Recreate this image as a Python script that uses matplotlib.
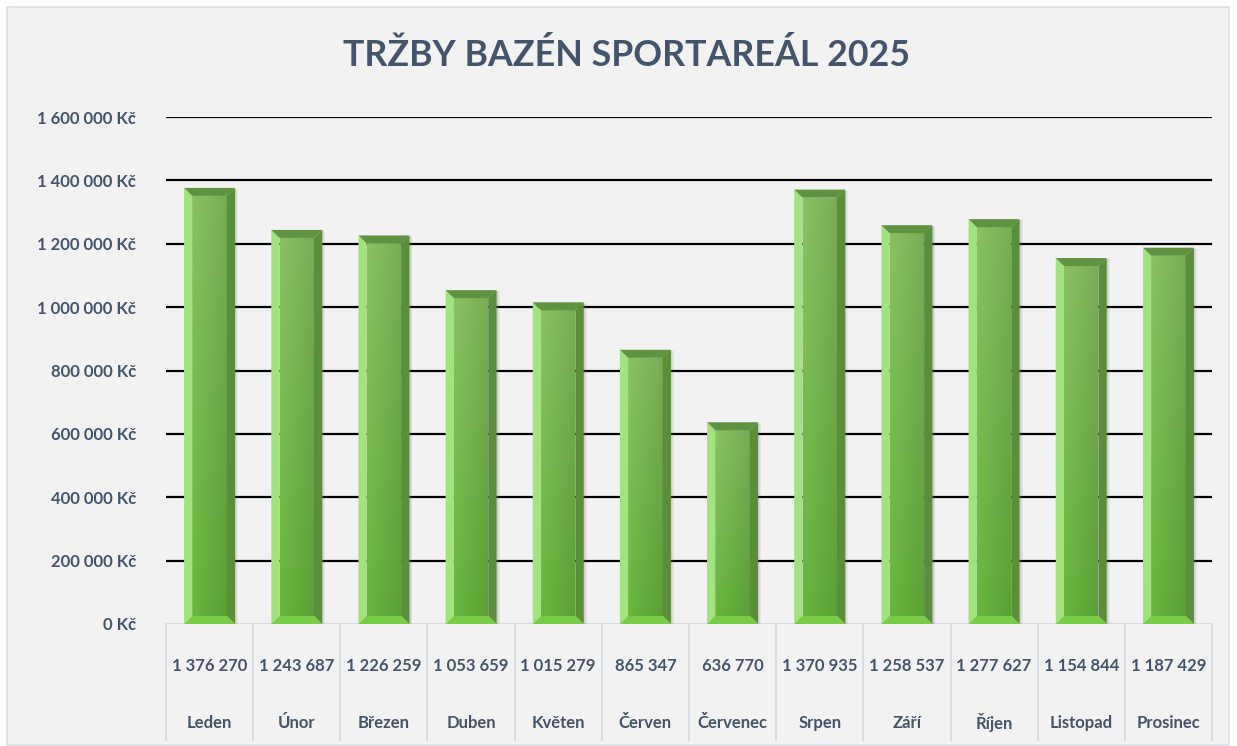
import matplotlib
matplotlib.use('Agg')
import matplotlib.pyplot as plt
import numpy as np
from matplotlib.patches import Polygon, Rectangle

months = ['Leden', 'Únor', 'Březen', 'Duben', 'Květen', 'Červen', 'Červenec',
          'Srpen', 'Září', 'Říjen', 'Listopad', 'Prosinec']
revenue = [1376270, 1243687, 1226259, 1053659, 1015279, 865347, 636770,
           1370935, 1258537, 1277627, 1154844, 1187429]
y_ticks = [0, 200000, 400000, 600000, 800000, 1000000, 1200000, 1400000, 1600000]
title = 'TRŽBY BAZÉN SPORTAREÁL 2025'

FONT = ['Lato', 'DejaVu Sans']
TXT = '#44546A'
W, H = 1237, 746


def fmt(v):
    return f'{v:,}'.replace(',', ' ')


fig = plt.figure(figsize=(W / 100, H / 100), dpi=100, facecolor='white')
fig.patches.append(Rectangle((7 / W, 1 / H), 1222 / W, 738 / H, transform=fig.transFigure,
                             facecolor='#F2F2F2', edgecolor='#D9DEE6', lw=1.2, zorder=-5))

ax = fig.add_axes([166 / W, (H - 624) / H, 1046 / W, 507 / H])
ax.set_zorder(2)
ax.set_facecolor('none')
ax.set_xlim(-0.5, len(months) - 0.5)
ax.set_ylim(0, 1600000)
for s in ax.spines.values():
    s.set_visible(False)
ax.set_xticks([])
ax.set_yticks(y_ticks)
ax.set_yticklabels([f'{fmt(v)} Kč' for v in y_ticks])
ax.tick_params(axis='y', length=0, pad=21.6)

renderer = fig.canvas.get_renderer()


def fit_size(text, target_px, base=11):
    t = fig.text(0, 0, text, fontsize=base, fontweight='bold', family=FONT)
    w = t.get_window_extent(renderer).width
    t.remove()
    return base * target_px / w


tick_fs = fit_size('1 600 000 Kč', 99)
title_fs = fit_size(title, 567, 28)

for lab in ax.get_yticklabels():
    lab.set_fontsize(tick_fs)
    lab.set_fontweight('bold')
    lab.set_color(TXT)
    lab.set_family(FONT)

# gridlines
for v in y_ticks[1:]:
    ax.axhline(v, color='black', lw=1.6, zorder=1)
ax.axhline(0, color='#D6DCE4', lw=1.6, zorder=1)

# bars with bevel
bw = 0.585
dx = 0.095
dy = 8 * 1600000 / 507
ny, nx = 64, 32
yy = np.linspace(1, 0, ny)[:, None]
xx = np.linspace(0, 1, nx)[None, :]
top_c = np.array([0x8A, 0xC2, 0x62]) / 255
bot_c = np.array([0x68, 0xB6, 0x3E]) / 255
img = (bot_c + (top_c - bot_c) * yy[..., None]) * (1 - 0.12 * xx[..., None])

for i, v in enumerate(revenue):
    x0, x1 = i - bw / 2, i + bw / 2
    # soft shadow
    for k, a in [(0.035, 0.10), (0.025, 0.10), (0.014, 0.12)]:
        ax.add_patch(Rectangle((x0 + k, 0), bw, v - k * 120000, facecolor='#7F7F7F',
                               alpha=a, lw=0, zorder=2))
    face = Polygon([(x0 + dx, dy), (x1 - dx, dy), (x1 - dx, v - dy), (x0 + dx, v - dy)],
                   closed=True, facecolor='none', lw=0, zorder=3)
    ax.add_patch(face)
    im = ax.imshow(img, extent=(x0 + dx, x1 - dx, dy, v - dy), aspect='auto',
                   interpolation='bilinear', zorder=3)
    im.set_clip_path(face)
    ax.add_patch(Polygon([(x0, 0), (x0 + dx, dy), (x0 + dx, v - dy), (x0, v)],
                         facecolor='#A2E27F', lw=0, zorder=4))
    ax.add_patch(Polygon([(x1, 0), (x1, v), (x1 - dx, v - dy), (x1 - dx, dy)],
                         facecolor='#5A8E3A', lw=0, zorder=4))
    ax.add_patch(Polygon([(x0, v), (x1, v), (x1 - dx, v - dy), (x0 + dx, v - dy)],
                         facecolor='#5F9342', lw=0, zorder=4))
    ax.add_patch(Polygon([(x0, 0), (x1, 0), (x1 - dx, dy), (x0 + dx, dy)],
                         facecolor='#78CC46', lw=0, zorder=4))

ax.set_xlim(-0.5, len(months) - 0.5)
ax.set_ylim(0, 1600000)

# data table under the axis
tr = ax.get_xaxis_transform()
for b in np.arange(-0.5, len(months), 1.0):
    ax.plot([b, b], [0, -0.229], transform=tr, clip_on=False, color='#D6DCE4', lw=1.4, zorder=1)
for i, (m, v) in enumerate(zip(months, revenue)):
    ax.text(i, -0.083, fmt(v), transform=tr, ha='center', va='center', fontsize=tick_fs,
            fontweight='bold', color=TXT, family=FONT)
    ax.text(i, -0.195, m, transform=tr, ha='center', va='center', fontsize=tick_fs,
            fontweight='bold', color=TXT, family=FONT)

fig.text(626.5 / W, 1 - 55 / H, title, ha='center', va='center', fontsize=title_fs,
         fontweight='bold', color=TXT, family=FONT)

fig.savefig('out.png', dpi=100, facecolor='white')
